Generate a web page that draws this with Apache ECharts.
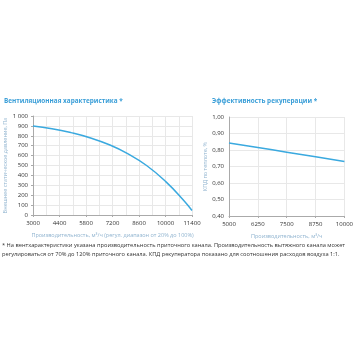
<!DOCTYPE html>
<html><head><meta charset="utf-8">
<script src="https://cdn.jsdelivr.net/npm/echarts@6/dist/echarts.min.js"></script>
<style>html,body{margin:0;padding:0;background:#fff}#c{width:356px;height:356px}</style>
</head><body><div id="c"></div>
<script>
// Left chart: fan curve
const fanFlow = [3000, 4000, 5000, 6000, 7000, 8000, 9000, 10000, 11000, 11400];
const fanPressure = [900, 872, 832, 780, 712, 620, 500, 340, 140, 45];
const fanXTicks = [3000, 4400, 5800, 7200, 8600, 10000, 11400];
const fanYTicks = [0, 100, 200, 300, 400, 500, 600, 700, 800, 900, 1000];
// Right chart: recuperation efficiency
const recFlow = [5000, 6250, 7500, 8750, 10000];
const recEff = [0.843, 0.815, 0.787, 0.759, 0.731];
const recXTicks = [5000, 6250, 7500, 8750, 10000];
const recYTicks = [0.4, 0.5, 0.6, 0.7, 0.8, 0.9, 1.0];

const titleColor = '#3b9fd8';
const lineColor = '#3aa9df';
const nameColor = '#8fb3cf';
const labelColor = '#333';
const gridColor = '#e8e8e8';
const ff = 'Open Sans, sans-serif';

const chart = echarts.init(document.getElementById('c'), null, {renderer: 'canvas'});
const axisCommon = {
  axisLine: {show: true, lineStyle: {color: '#aaa', width: 1}},
  axisTick: {show: true, length: 2, lineStyle: {color: '#aaa'}},
  axisLabel: {fontSize: 6, color: labelColor, fontFamily: ff},
  splitLine: {show: true, lineStyle: {color: gridColor, width: 1}},
  nameTextStyle: {fontSize: 5.5, color: nameColor, fontFamily: ff}
};
chart.setOption({
  animation: false,
  backgroundColor: '#fff',
  title: [
    {text: 'Вентиляционная характеристика *', left: 4, top: 98, padding: 0,
     textStyle: {fontSize: 6.4, fontWeight: 'bold', color: titleColor, fontFamily: ff}},
    {text: 'Эффективность рекуперации *', left: 212, top: 98, padding: 0,
     textStyle: {fontSize: 6.4, fontWeight: 'bold', color: titleColor, fontFamily: ff}},
    {text: '* На вентхарактеристики указана производительность приточного канала. Производительность вытяжного канала может\nрегулироваться от 70% до 120% приточного канала. КПД рекуператора показано для соотношения расходов воздуха 1:1.',
     left: 2, top: 241, padding: 0,
     textStyle: {fontSize: 5.7, fontWeight: 'normal', color: '#333', fontFamily: ff, lineHeight: 9}}
  ],
  grid: [
    {left: 33, top: 116, width: 159, height: 99},
    {left: 229, top: 117, width: 118, height: 99}
  ],
  xAxis: [
    Object.assign({}, axisCommon, {
      gridIndex: 0, type: 'value', min: fanXTicks[0], max: fanXTicks[fanXTicks.length - 1], interval: 1400,
      minorTick: {show: false, splitNumber: 2},
      minorSplitLine: {show: true, lineStyle: {color: gridColor, width: 1}},
      name: 'Производительность, м³/ч (регул. диапазон от 20% до 100%)',
      nameLocation: 'middle', nameGap: 17,
      axisLabel: {fontSize: 6, color: labelColor, fontFamily: ff, margin: 5, showMinLabel: true, showMaxLabel: true,
        formatter: v => String(v)}
    }),
    Object.assign({}, axisCommon, {
      gridIndex: 1, type: 'value', min: recXTicks[0], max: recXTicks[recXTicks.length - 1], interval: 1250,
      name: 'Производительность, м³/ч', nameLocation: 'middle', nameGap: 17,
      axisLabel: {fontSize: 6, color: labelColor, fontFamily: ff, margin: 5, showMinLabel: true, showMaxLabel: true,
        formatter: v => String(v)}
    })
  ],
  yAxis: [
    Object.assign({}, axisCommon, {
      gridIndex: 0, type: 'value', min: fanYTicks[0], max: fanYTicks[fanYTicks.length - 1], interval: 100,
      name: 'Внешнее статическое давление, Па', nameLocation: 'middle', nameGap: 24,
      axisLabel: {fontSize: 6, color: labelColor, fontFamily: ff, margin: 5,
        formatter: v => v >= 1000 ? String(v).replace(/(\d)(\d{3})$/, '$1 $2') : String(v)}
    }),
    Object.assign({}, axisCommon, {
      gridIndex: 1, type: 'value', min: recYTicks[0], max: recYTicks[recYTicks.length - 1], interval: 0.1,
      name: 'КПД по теплоте, %', nameLocation: 'middle', nameGap: 18,
      axisTick: {show: false},
      axisLabel: {fontSize: 6, color: labelColor, fontFamily: ff, margin: 5,
        formatter: v => v.toFixed(2).replace('.', ',')}
    })
  ],
  series: [
    {type: 'line', xAxisIndex: 0, yAxisIndex: 0, smooth: true, showSymbol: false,
     lineStyle: {color: lineColor, width: 1.5},
     data: fanFlow.map((x, i) => [x, fanPressure[i]])},
    {type: 'line', xAxisIndex: 1, yAxisIndex: 1, smooth: true, showSymbol: false,
     lineStyle: {color: lineColor, width: 1.5},
     data: recFlow.map((x, i) => [x, recEff[i]])}
  ]
});
</script></body></html>
